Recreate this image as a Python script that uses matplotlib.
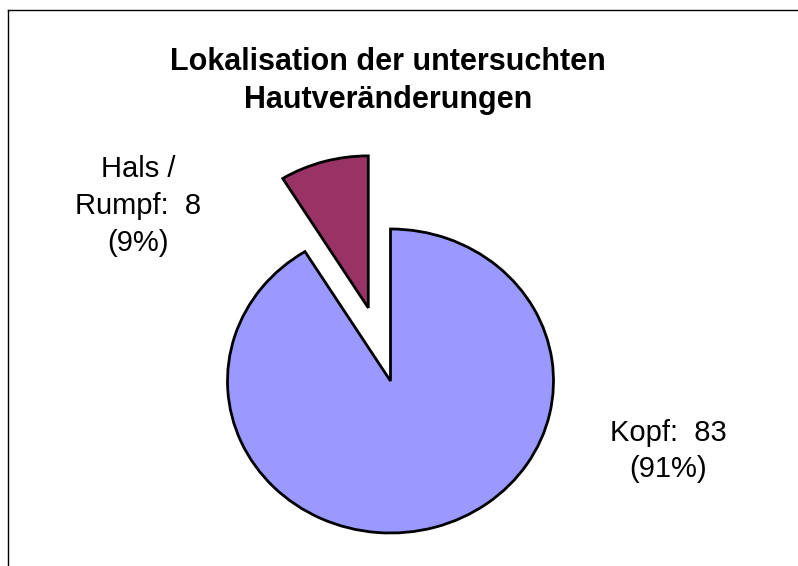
import matplotlib.pyplot as plt
from matplotlib.lines import Line2D

plt.rcParams['font.family'] = ['Liberation Sans', 'DejaVu Sans']

# ── data ─────────────────────────────────────────────────────────────────────
categories = ['Kopf', 'Hals /\nRumpf']
counts = [83, 8]
colors = ['#9999FF', '#993366']
explode = [0, 0.5]

title = 'Lokalisation der untersuchten\nHautveränderungen'

# ── figure ───────────────────────────────────────────────────────────────────
W, H = 798, 566
fig = plt.figure(figsize=(W / 100, H / 100), dpi=100)
ax = fig.add_axes([0, 0, 1, 1])

wedges, _ = ax.pie(counts, colors=colors, explode=explode, startangle=90,
                   counterclock=False,
                   wedgeprops=dict(edgecolor='black', linewidth=2.0))

# map unit circle to a slightly flattened ellipse in pixel space
cx, cy, rx, ry = 390.5, 381, 163, 152
ax.set_aspect('auto')
ax.set_xlim(-cx / rx, (W - cx) / rx)
ax.set_ylim((cy - H) / ry, cy / ry)
ax.axis('off')

total = sum(counts)
label_pos = [(668, 451), (138, 206)]
for cat, n, (px, py) in zip(categories, counts, label_pos):
    pct = round(100 * n / total)
    ax.text((px - cx) / rx, (cy - py) / ry, f'{cat}:  {n}\n({pct}%)',
            ha='center', va='center', fontsize=21, linespacing=1.4)

fig.text(388 / W, 1 - 81 / H, title, ha='center', va='center',
         fontsize=22, fontweight='bold', linespacing=1.35)

# chart area border (top and left only are visible)
fig.add_artist(Line2D([8 / W, 8 / W], [0, 1 - 10 / H], color='black',
                      linewidth=1.0, transform=fig.transFigure))
fig.add_artist(Line2D([8 / W, 1], [1 - 10 / H, 1 - 10 / H], color='black',
                      linewidth=1.0, transform=fig.transFigure))

fig.savefig('out.png', dpi=100)
